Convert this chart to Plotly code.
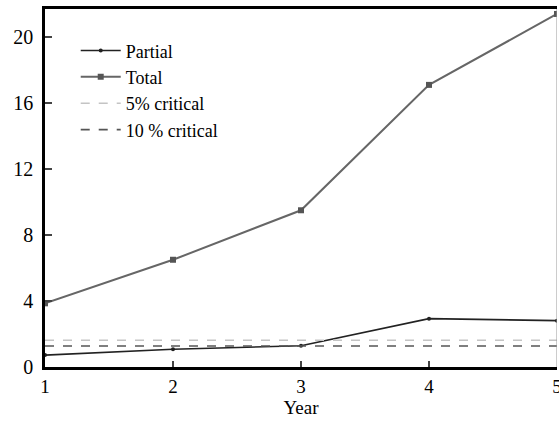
import plotly.graph_objects as go

years = [1, 2, 3, 4, 5]
partial = [0.72, 1.08, 1.29, 2.93, 2.81]
total = [3.86, 6.5, 9.5, 17.1, 21.4]
crit5 = 1.62
crit10 = 1.27
y_ticks = [0, 4, 8, 12, 16, 20]

font = "Liberation Serif, serif"
fig = go.Figure()
fig.add_trace(go.Scatter(x=years, y=partial, name="Partial", mode="lines+markers",
                         line=dict(color="#222", width=1.6),
                         marker=dict(symbol="circle", size=4, color="#222")))
fig.add_trace(go.Scatter(x=years, y=total, name="Total", mode="lines+markers",
                         line=dict(color="#666", width=2),
                         marker=dict(symbol="square", size=6, color="#555")))
fig.add_trace(go.Scatter(x=[years[0], years[-1]], y=[crit5, crit5], name="5% critical", mode="lines",
                         line=dict(color="#c4c4c4", width=1.6, dash="dash")))
fig.add_trace(go.Scatter(x=[years[0], years[-1]], y=[crit10, crit10], name="10 % critical", mode="lines",
                         line=dict(color="#555", width=1.6, dash="dash")))

fig.add_shape(type="line", xref="x", yref="paper", x0=5, x1=5, y0=0, y1=1,
              line=dict(color="#999", width=1))

fig.update_layout(
    width=559, height=421,
    margin=dict(l=45, r=2, t=9, b=54, autoexpand=False),
    plot_bgcolor="white", paper_bgcolor="white",
    font=dict(family=font, size=19, color="black"),
    showlegend=True,
    legend=dict(x=0.06, y=0.935, xanchor="left", yanchor="top",
                bgcolor="rgba(0,0,0,0)", font=dict(size=18, family=font),
                tracegroupgap=0, itemwidth=40),
    xaxis=dict(range=[1, 5], tickvals=years, ticks="inside", ticklen=6, tickwidth=1.5,
               showline=True, linecolor="black", linewidth=2.5, mirror=True,
               showgrid=False, zeroline=False, ticklabeloverflow="allow", automargin=False,
               tickfont=dict(size=19, family=font),
               title=dict(text="Year", font=dict(size=19, family=font), standoff=6)),
    yaxis=dict(range=[0, 21.7], tickvals=y_ticks, ticks="inside", ticklen=7, tickwidth=1.5,
               showline=True, linecolor="black", linewidth=2.5, ticklabelstandoff=5,
               tickfont=dict(size=20, family=font),
               showgrid=False, zeroline=False, automargin=False),
)
fig.write_html("out.html")
